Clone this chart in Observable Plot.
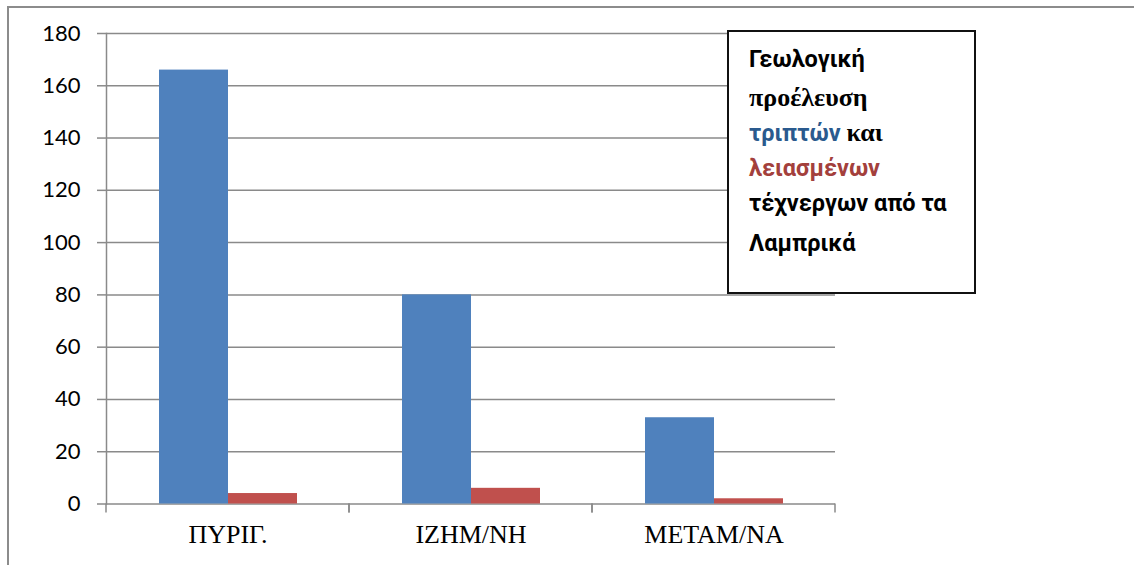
<!DOCTYPE html>
<html>
<head>
<meta charset="utf-8">
<script src="https://cdn.jsdelivr.net/npm/d3@7"></script>
<script src="https://cdn.jsdelivr.net/npm/@observablehq/plot@0.6"></script>
<style>
  html, body { margin: 0; padding: 0; background: #fff; }
  #wrap { position: relative; width: 1134px; height: 565px; overflow: hidden; }
  #frame { position: absolute; left: 7px; top: 6px; width: 1200px; height: 700px;
           border-top: 2px solid #8c8c8c; border-left: 2px solid #8c8c8c; }
  #chart { position: absolute; left: 0; top: 0; }
  #box { position: absolute; left: 727px; top: 30px; width: 245px; height: 260px;
         border: 2px solid #111; background: #fff; }
  .ln { position: absolute; left: 20px; white-space: nowrap; font-weight: bold; color: #000;
        font-family: Roboto, "Open Sans", sans-serif; font-size: 23.5px; line-height: 1; }
  .serif { font-family: "Liberation Serif", "DejaVu Serif", serif; font-size: 26px; }
</style>
</head>
<body>
<div id="wrap">
  <div id="frame"></div>
  <div id="chart"></div>
  <div id="box">
    <div class="ln" style="top:16px">Γεωλογική</div>
    <div class="ln serif" style="top:53px">προέλευση</div>
    <div class="ln" style="top:88px"><span style="color:#2a5a8e">τριπτών</span> <span class="serif">και</span></div>
    <div class="ln" style="top:125px;color:#a3403c">λειασμένων</div>
    <div class="ln" style="top:160px">τέχνεργων από τα</div>
    <div class="ln" style="top:200px">Λαμπρικά</div>
  </div>
</div>
<script>
const categories = ["ΠΥΡΙΓ.", "ΙΖΗΜ/ΝΗ", "ΜΕΤΑΜ/ΝΑ"];
const series = ["τριπτά", "λειασμένα"];
const triptaValues = [166, 80, 33];
const leiasmenaValues = [4, 6, 2];
const yTicks = [0, 20, 40, 60, 80, 100, 120, 140, 160, 180];
const seriesColors = ["#4f81bd", "#c0504d"];

const data = categories.flatMap((c, i) => [
  {cat: c, s: series[0], v: triptaValues[i]},
  {cat: c, s: series[1], v: leiasmenaValues[i]}
]);

const gridColor = "#8a8a8a";

// drawn once per facet: short ticks at the facet's left and right edges, below the baseline
function boundaryTicks(index, scales, values, dims) {
  const g = d3.create("svg:g");
  const y0 = scales.y(0);
  const bw = scales.fx && scales.fx.bandwidth ? scales.fx.bandwidth() : 0;
  [dims.marginLeft, dims.marginLeft + bw].forEach(x => {
    g.append("line").attr("x1", x).attr("x2", x).attr("y1", y0).attr("y2", y0 + 9)
      .attr("stroke", gridColor).attr("stroke-width", 1.5);
  });
  return g.node();
}

const chart = Plot.plot({
  width: 1134,
  height: 565,
  marginLeft: 106,
  marginRight: 299,
  marginTop: 33,
  marginBottom: 61.5,
  style: {background: "transparent"},
  fx: {domain: categories, padding: 0, label: null},
  x: {domain: series, paddingInner: 0, paddingOuter: 0.75, axis: null},
  y: {domain: [0, 180], label: null},
  color: {domain: series, range: seriesColors},
  marks: [
    Plot.gridY(yTicks, {stroke: gridColor, strokeOpacity: 1, strokeWidth: 1.5}),
    Plot.barY(data, {fx: "cat", x: "s", y: "v", fill: "s"}),
    Plot.frame({anchor: "left", facetAnchor: "left", stroke: gridColor, strokeWidth: 1.5}),
    Plot.axisY(yTicks, {tickSize: 9, tickPadding: 17, stroke: gridColor, strokeWidth: 1.5, strokeOpacity: 1,
      fontSize: 22, fontFamily: "Lato, 'Open Sans', sans-serif", fill: "#000", label: null}),
    Plot.axisFx({anchor: "bottom", tickSize: 0, tickPadding: 21, fontSize: 26,
      fontFamily: "'Liberation Serif', 'Times New Roman', serif", fill: "#000", label: null}),
    boundaryTicks
  ]
});
document.getElementById("chart").appendChild(chart);
</script>
</body>
</html>
